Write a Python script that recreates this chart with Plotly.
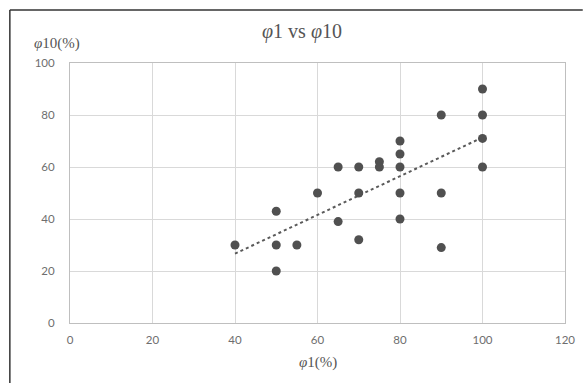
import numpy as np
import plotly.graph_objects as go

phi1 = [40, 50, 50, 50, 55, 60, 65, 65, 70, 70, 70, 75, 75, 80, 80, 80, 80, 80, 90, 90, 90, 100, 100, 100, 100]
phi10 = [30, 43, 30, 20, 30, 50, 60, 39, 60, 50, 32, 62, 60, 70, 65, 60, 50, 40, 80, 50, 29, 90, 80, 71, 60]
x_ticks = [0, 20, 40, 60, 80, 100, 120]
y_ticks = [0, 20, 40, 60, 80, 100]

W, H = 587, 383
L, R, T, B = 70, 15, 63, 60
pw, ph = W - L - R, H - T - B

def px(xp):
    return (xp - L) / pw

def py(yp):
    return (H - B - yp) / ph

slope, intercept = np.polyfit(phi1, phi10, 1)
tx = [min(phi1), max(phi1)]
ty = [slope * v + intercept for v in tx]

fig = go.Figure()
fig.add_trace(go.Scatter(x=tx, y=ty, mode="lines",
                         line=dict(color="#5a5a5a", width=2, dash="dot"),
                         hoverinfo="skip", showlegend=False))
fig.add_trace(go.Scatter(x=phi1, y=phi10, mode="markers",
                         marker=dict(color="#505050", size=9),
                         showlegend=False))

grid = "#d9d9d9"
tickfont = dict(family="Lato, Liberation Sans, sans-serif", size=11.5, color="#6e6e6e")
fig.update_xaxes(range=[0, 120], tickvals=x_ticks, showgrid=True, gridcolor=grid,
                 gridwidth=1, zeroline=False, showline=True, linecolor="#bfbfbf",
                 mirror=True, ticks="", tickfont=tickfont, ticklabelstandoff=6)
fig.update_yaxes(range=[0, 100], tickvals=y_ticks, showgrid=True, gridcolor=grid,
                 gridwidth=1, zeroline=False, showline=True, linecolor="#bfbfbf",
                 mirror=True, ticks="", tickfont=tickfont, ticklabelstandoff=12)

serif = "Liberation Serif, Times New Roman, serif"
ann = [
    dict(text="<i>φ</i>1 vs <i>φ</i>10", x=px(305), y=py(32), font=dict(family=serif, size=20, color="#555555")),
    dict(text="<i>φ</i>10(%)", x=px(57), y=py(43), font=dict(family=serif, size=15, color="#555555")),
    dict(text="<i>φ</i>1(%)", x=px(321), y=py(362), font=dict(family=serif, size=15, color="#555555")),
]
for a in ann:
    a.update(xref="paper", yref="paper", showarrow=False, xanchor="center", yanchor="middle")

shapes = [
    dict(type="line", xref="paper", yref="paper", x0=px(9), x1=px(590), y0=py(10), y1=py(10),
         line=dict(color="#333333", width=1.5)),
    dict(type="line", xref="paper", yref="paper", x0=px(9), x1=px(9), y0=py(10), y1=py(390),
         line=dict(color="#333333", width=1.5)),
]

fig.update_layout(width=W, height=H, margin=dict(l=L, r=R, t=T, b=B),
                  paper_bgcolor="white", plot_bgcolor="white",
                  annotations=ann, shapes=shapes, showlegend=False)
fig.write_html("out.html", config={"displayModeBar": False},
               post_script="document.body.style.margin='0px';document.body.style.overflow='hidden';")
